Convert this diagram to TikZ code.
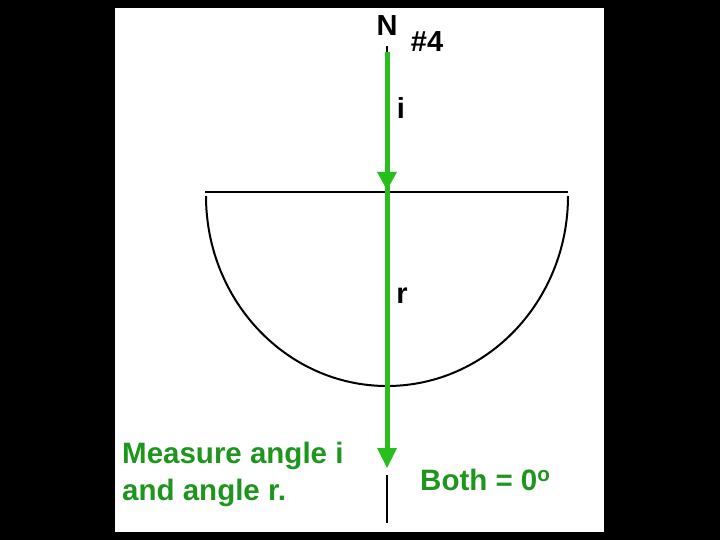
\documentclass[tikz,border=0pt]{standalone}
\usepackage{fontspec}
\setmainfont{Liberation Sans}
\definecolor{gl}{RGB}{40,190,30}
\definecolor{gt}{RGB}{30,150,30}
\begin{document}
\begin{tikzpicture}[x=1pt,y=-1pt,
  lbl/.style={font=\bfseries\fontsize{29}{34}\selectfont,inner sep=0pt},
  gtxt/.style={font=\bfseries\fontsize{29.5}{37}\selectfont,inner sep=0pt,text=gt,align=left}]
\fill[black] (0,0) rectangle (720,540);
\useasboundingbox (0,0) rectangle (720,540);
\fill[white] (115,8) rectangle (604,532);
% semicircle
\draw[line width=2pt] (205,192) -- (568,192);
\draw[line width=2pt] (206,196) arc[start angle=180,end angle=0,x radius=181,y radius=190];
% normal below
\coordinate (nb1) at (387,475);
\coordinate (nb2) at (387,523);
\draw[line width=2.5pt] (nb1) -- (nb2);
\coordinate (n0) at (387,46);
\coordinate (n1) at (387,52);
\coordinate (m) at (387,190);
\coordinate (e) at (387,468);
\draw[line width=2.5pt] (n0) -- (n1);
\draw[gl,line width=5pt] (n1) -- (m);
\draw[gl,line width=5pt] (m) -- (387,452);
\fill[gl] (377,172) -- (397,172) -- (387,190) -- cycle;
\fill[gl] (377,448) -- (397,448) -- (387,468) -- cycle;
\node[lbl] (N) at (387,26) {N};
\node[lbl] (h) at (427,42) {\#4};
\node[lbl] (i) at (401,108) {i};
\node[lbl] (r) at (402,296) {r};
\node[gtxt,anchor=west] (meas) at (122,474) {Measure angle i\\and angle r.};
\node[gtxt,anchor=west] (both) at (420,480) {Both = 0\textsuperscript{o}};
\end{tikzpicture}
\end{document}
